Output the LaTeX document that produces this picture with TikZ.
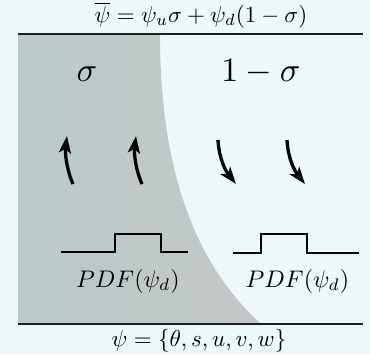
\documentclass[tikz,border=0pt]{standalone}
\usepackage{graphicx}
\usetikzlibrary{arrows.meta}
\definecolor{bgc}{HTML}{EFF8F9}
\definecolor{grayA}{HTML}{BCC9C9}
\definecolor{grayB}{HTML}{C4C7C7}
\definecolor{linec}{HTML}{1E1E1E}
\tikzset{
  rulestyle/.style={draw=linec, line width=1.6pt},
  pdfline/.style={draw=black, line width=1.4pt},
  flowarrow/.style={line width=3.3pt, -{Stealth[length=17pt,width=12pt,inset=4pt]}},
  textnode/.style={anchor=base, inner sep=0pt},
}
\newcommand{\fmla}[1]{\scalebox{2.3}{$#1$}}
\newcommand{\biglbl}[1]{\scalebox{3.4}{$#1$}}
\newcommand{\pdflbl}[1]{\scalebox{2.4}{$#1$}}
\begin{document}
\begin{tikzpicture}[x=1pt,y=-1pt]
\fill[bgc] (0,0) rectangle (370,354);
\useasboundingbox (0,0) rectangle (370,354);
% gray region
\shade[left color=grayA, right color=grayB] (18,34) -- (160,34) .. controls (160,150) and (185,255) .. (261,324) -- (18,324) -- cycle;
% rules
\coordinate (tl) at (18,34); \coordinate (tr) at (363,34);
\coordinate (bl) at (18,324); \coordinate (br) at (363,324);
\draw[rulestyle] (tl) -- (tr);
\draw[rulestyle] (bl) -- (br);
% formulas
\node[textnode] (topformula) at (201,22.5) {\fmla{\overline{\psi}=\psi_u\sigma+\psi_d(1-\sigma)}};
\node[textnode] (botformula) at (199,346) {\fmla{\psi=\{\theta,s,u,v,w\}}};
% region labels
\node[textnode] (sigmalabel) at (87,81) {\biglbl{\sigma}};
\node[textnode] (onemsigma) at (261,81) {\biglbl{1-\sigma}};
% arrows
\coordinate (ua1s) at (73,184); \coordinate (ua1e) at (67,136);
\coordinate (ua2s) at (142,184); \coordinate (ua2e) at (136,136);
\coordinate (da1s) at (218,140); \coordinate (da1e) at (236,184);
\coordinate (da2s) at (287,140); \coordinate (da2e) at (305,184);
\draw[flowarrow] (ua1s) .. controls (66,168) and (65,152) .. (ua1e);
\draw[flowarrow] (ua2s) .. controls (135,168) and (134,152) .. (ua2e);
\draw[flowarrow] (da1s) .. controls (219,158) and (225,170) .. (da1e);
\draw[flowarrow] (da2s) .. controls (288,158) and (294,170) .. (da2e);
% PDFs
\draw[pdfline] (61,252) -- (115,252) -- (115,234) -- (161,234) -- (161,252) -- (188,252);
\draw[pdfline] (233,253) -- (261,253) -- (261,234) -- (307,234) -- (307,253) -- (359,253);
\node[textnode] (pdfleft) at (128,287) {\pdflbl{PDF(\psi_d)}};
\node[textnode] (pdfright) at (297.5,287) {\pdflbl{PDF(\psi_d)}};
\end{tikzpicture}
\end{document}
